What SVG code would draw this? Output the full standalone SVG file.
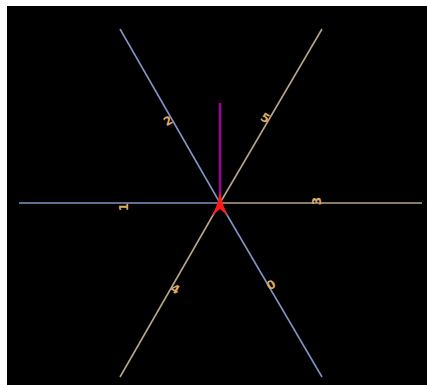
<svg xmlns="http://www.w3.org/2000/svg" width="427" height="385" viewBox="0 0 427 385">
<style>
.blue{stroke:#7f93c4;stroke-width:1.6;fill:none}
.tan{stroke:#b8a586;stroke-width:1.6;fill:none}
.lbl{font-family:"DejaVu Sans",sans-serif;font-size:12px;font-weight:bold;fill:#deaa66;text-anchor:middle;dominant-baseline:central}
</style>
<rect x="0" y="0" width="427" height="385" fill="#ffffff"/>
<rect x="7" y="6" width="420" height="379" fill="#000000"/>
<g id="connectors">
<line class="blue" x1="220" y1="203" x2="322" y2="377"/>
<line class="blue" x1="220" y1="203" x2="19" y2="203"/>
<line class="blue" x1="220" y1="203" x2="120" y2="29"/>
<line class="tan" x1="220" y1="203" x2="422" y2="203"/>
<line class="tan" x1="220" y1="203" x2="120" y2="377"/>
<line class="tan" x1="220" y1="203" x2="322" y2="29"/>
<line x1="220" y1="203" x2="220" y2="103" stroke="#9a009a" stroke-width="2.5"/>
</g>
<g id="center">
<path d="M220,191 Q222,205 228,216 L220,209 L212,216 Q218,205 220,191 Z" fill="#ff1a1a"/>
</g>
<g id="label-0"><text class="lbl" transform="translate(271,285) rotate(-30)">0</text></g>
<g id="label-1"><text class="lbl" transform="translate(124,207) rotate(-90)">1</text></g>
<g id="label-2"><text class="lbl" transform="translate(168,121) rotate(-30)">2</text></g>
<g id="label-3"><text class="lbl" transform="translate(317,201) rotate(-90)">3</text></g>
<g id="label-4"><text class="lbl" transform="translate(175,289) rotate(30)">4</text></g>
<g id="label-5"><text class="lbl" transform="translate(265,118) rotate(30)">5</text></g>
</svg>
